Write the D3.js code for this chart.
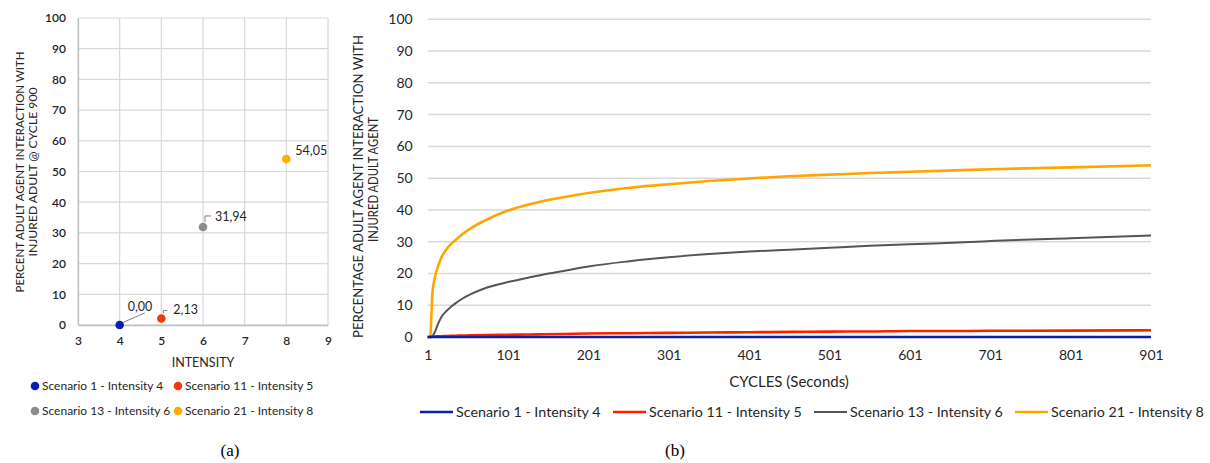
<!DOCTYPE html>
<html>
<head>
<meta charset="utf-8">
<script src="https://cdn.jsdelivr.net/npm/d3@7"></script>
<style>
  html, body { margin: 0; padding: 0; background: #fff; }
  svg { display: block; }
  text { font-family: Lato, "Open Sans", sans-serif; fill: #262626; }
  .cap { font-family: "Liberation Serif", "DejaVu Serif", serif; fill: #000; }
</style>
</head>
<body>
<svg id="fig" width="1210" height="463"></svg>
<script>
// ---- (a) final share at cycle 900 per scenario ----
const scenarioNames = ["Scenario 1 - Intensity 4", "Scenario 11 - Intensity 5",
                       "Scenario 13 - Intensity 6", "Scenario 21 - Intensity 8"];
const intensities = [4, 5, 6, 8];
const finalPercent = [0.00, 2.13, 31.94, 54.05];
const finalLabels = ["0,00", "2,13", "31,94", "54,05"];
const scatterColors = ["#0a1eb4", "#f03c0a", "#8c8c8c", "#ffab00"];
const intensityTicks = [3, 4, 5, 6, 7, 8, 9];
const percentTicks = [0, 10, 20, 30, 40, 50, 60, 70, 80, 90, 100];

// ---- (b) percentage over time ----
const cycles = [1, 4, 7, 10, 14, 18, 24, 29, 35, 45, 54, 74, 101, 128, 145, 170, 201, 250, 301, 351, 401, 451, 501, 551, 601, 676, 701, 801, 901];
const series1 = [0, 0, 0, 0, 0, 0, 0, 0, 0, 0, 0, 0, 0, 0, 0, 0, 0, 0, 0, 0, 0, 0, 0, 0, 0, 0, 0, 0, 0];
const series11 = [0, 0, 0.1, 0.15, 0.2, 0.25, 0.3, 0.35, 0.4, 0.45, 0.5, 0.6, 0.7, 0.8, 0.85, 0.95, 1.1, 1.2, 1.3, 1.4, 1.5, 1.6, 1.7, 1.75, 1.9, 1.9, 1.95, 2.0, 2.13];
const series13 = [0, 0, 0.3, 1.6, 4.2, 6.3, 8.1, 9.3, 10.5, 12.2, 13.4, 15.5, 17.3, 18.8, 19.7, 20.8, 22.2, 23.8, 25.1, 26.1, 26.9, 27.5, 28.1, 28.7, 29.2, 29.9, 30.2, 31.1, 31.94];
const series21 = [0, 0, 14.2, 18.8, 22.4, 25.0, 27.5, 29.0, 30.4, 32.5, 34.1, 36.9, 39.8, 41.8, 42.8, 44.0, 45.3, 46.9, 48.1, 49.1, 49.9, 50.6, 51.1, 51.6, 52.0, 52.6, 52.8, 53.4, 54.05];
const lineSeries = [series1, series11, series13, series21];
const lineColors = ["#0a1ea8", "#ff1e00", "#555555", "#ffa500"];
const cycleTicks = [1, 101, 201, 301, 401, 501, 601, 701, 801, 901];

const svg = d3.select("#fig");
const gridColor = "#d9d9d9";

// rotated two-line axis title, each line fitted to its own width
function verticalTitle(g, cx, cy, lines, size, gap) {
  lines.forEach((ln, k) => {
    g.append("text")
      .attr("transform", `translate(${cx + k * gap},${cy}) rotate(-90)`)
      .attr("text-anchor", "middle").attr("font-size", size)
      .attr("textLength", ln.w).attr("lengthAdjust", "spacingAndGlyphs")
      .text(ln.t);
  });
}

// ================= Panel (a): scatter =================
{
  const x = d3.scaleLinear().domain([3, 9]).range([78, 328]);
  const y = d3.scaleLinear().domain([0, 100]).range([325, 18]);
  const g = svg.append("g");

  g.append("g").selectAll("line").data(percentTicks).join("line")
    .attr("x1", x(3)).attr("x2", x(9)).attr("y1", d => y(d)).attr("y2", d => y(d))
    .attr("stroke", gridColor).attr("stroke-width", 1.2);
  g.append("g").selectAll("line").data(intensityTicks).join("line")
    .attr("y1", y(0)).attr("y2", y(100)).attr("x1", d => x(d)).attr("x2", d => x(d))
    .attr("stroke", gridColor).attr("stroke-width", 1.2);

  const yAxis = d3.axisLeft(y).tickValues(percentTicks).tickSize(0).tickPadding(12);
  const ya = g.append("g").attr("transform", `translate(${x(3)},0)`).call(yAxis);
  ya.select(".domain").attr("stroke", "#bfbfbf").attr("stroke-width", 1.3);
  ya.selectAll("text").attr("font-size", 12).attr("font-weight", 600).attr("fill", "#262626");

  const xAxis = d3.axisBottom(x).tickValues(intensityTicks).tickFormat(d3.format("d"))
    .tickSize(0).tickPadding(11);
  const xa = g.append("g").attr("transform", `translate(0,${y(0)})`).call(xAxis);
  xa.select(".domain").attr("stroke", "#bfbfbf").attr("stroke-width", 1.3);
  xa.selectAll("text").attr("font-size", 12).attr("font-weight", 600).attr("fill", "#262626");

  g.append("text").attr("x", 203).attr("y", 367).attr("text-anchor", "middle")
    .attr("font-size", 12.5).text("INTENSITY");

  verticalTitle(g, 24, 172, [
    { t: "PERCENT ADULT AGENT INTERACTION WITH", w: 241 },
    { t: "INJURED ADULT @ CYCLE 900", w: 169 }
  ], 12, 13);

  // value labels with leader lines
  const labelLayout = [
    { dx: 8, dy: -18, path: [[2, -2], [25, -12]] },
    { dx: 12, dy: -8, path: [[2, -5], [2, -8], [6, -8]] },
    { dx: 12, dy: -10, path: [[2, -5], [2, -11], [8, -11]] },
    { dx: 9, dy: -8, path: null }
  ];
  finalPercent.forEach((v, i) => {
    const px = x(intensities[i]), py = y(v), L = labelLayout[i];
    if (L.path) {
      g.append("path")
        .attr("d", d3.line()(L.path.map(p => [px + p[0], py + p[1]])))
        .attr("fill", "none").attr("stroke", "#7f7f7f").attr("stroke-width", 1);
    }
    g.append("text").attr("x", px + L.dx).attr("y", py + L.dy + 4)
      .attr("font-size", 12.5).text(finalLabels[i]);
  });

  g.append("g").selectAll("circle").data(finalPercent).join("circle")
    .attr("cx", (d, i) => x(intensities[i])).attr("cy", d => y(d)).attr("r", 4.3)
    .attr("fill", (d, i) => scatterColors[i]);

  // legend (two rows)
  const legPos = [[35, 386], [178, 386], [35, 411], [178, 411]];
  scenarioNames.forEach((name, i) => {
    const [lx, ly] = legPos[i];
    g.append("circle").attr("cx", lx).attr("cy", ly).attr("r", 4.3).attr("fill", scatterColors[i]);
    g.append("text").attr("x", lx + 7).attr("y", ly + 4).attr("font-size", 12).text(name);
  });

  svg.append("text").attr("class", "cap").attr("x", 230).attr("y", 456)
    .attr("text-anchor", "middle").attr("font-size", 17).text("(a)");
}

// ================= Panel (b): lines over cycles =================
{
  const x = d3.scaleLinear().domain([1, 901]).range([427.7, 1151]);
  const y = d3.scaleLinear().domain([0, 100]).range([337, 19.3]);
  const g = svg.append("g");

  g.append("g").selectAll("line").data(percentTicks).join("line")
    .attr("x1", x(1)).attr("x2", x(901)).attr("y1", d => y(d)).attr("y2", d => y(d))
    .attr("stroke", gridColor).attr("stroke-width", 1.5);

  const yAxis = d3.axisLeft(y).tickValues(percentTicks).tickSize(0).tickPadding(15);
  const ya = g.append("g").attr("transform", `translate(${x(1)},0)`).call(yAxis);
  ya.select(".domain").remove();
  ya.selectAll("text").attr("font-size", 14).attr("fill", "#262626");

  const xAxis = d3.axisBottom(x).tickValues(cycleTicks).tickSize(0).tickPadding(13);
  const xa = g.append("g").attr("transform", `translate(0,${y(0)})`).call(xAxis);
  xa.select(".domain").remove();
  xa.selectAll("text").attr("font-size", 14).attr("fill", "#262626");

  g.append("text").attr("x", 789).attr("y", 387).attr("text-anchor", "middle")
    .attr("font-size", 15).text("CYCLES (Seconds)");

  verticalTitle(g, 363, 186.5, [
    { t: "PERCENTAGE ADULT AGENT INTERACTION WITH", w: 303 }
  ], 14, 15);
  verticalTitle(g, 378, 179.5, [
    { t: "INJURED ADULT AGENT", w: 125 }
  ], 14, 15);

  const line = d3.line().x((d, i) => x(cycles[i])).y(d => y(d)).curve(d3.curveMonotoneX);
  const widths = [2.6, 2.6, 2, 2.6];
  // draw lower series on top so they stay visible near zero
  [3, 2, 1, 0].forEach(i => {
    g.append("path").datum(lineSeries[i]).attr("d", line)
      .attr("fill", "none").attr("stroke", lineColors[i]).attr("stroke-width", widths[i])
      .attr("stroke-linejoin", "round");
  });

  const legX = [420, 613, 814, 1015];
  scenarioNames.forEach((name, i) => {
    g.append("line").attr("x1", legX[i]).attr("x2", legX[i] + 33).attr("y1", 412).attr("y2", 412)
      .attr("stroke", lineColors[i]).attr("stroke-width", widths[i]);
    g.append("text").attr("x", legX[i] + 36).attr("y", 417).attr("font-size", 14.3).text(name);
  });

  svg.append("text").attr("class", "cap").attr("x", 675).attr("y", 456)
    .attr("text-anchor", "middle").attr("font-size", 17).text("(b)");
}
</script>
</body>
</html>
